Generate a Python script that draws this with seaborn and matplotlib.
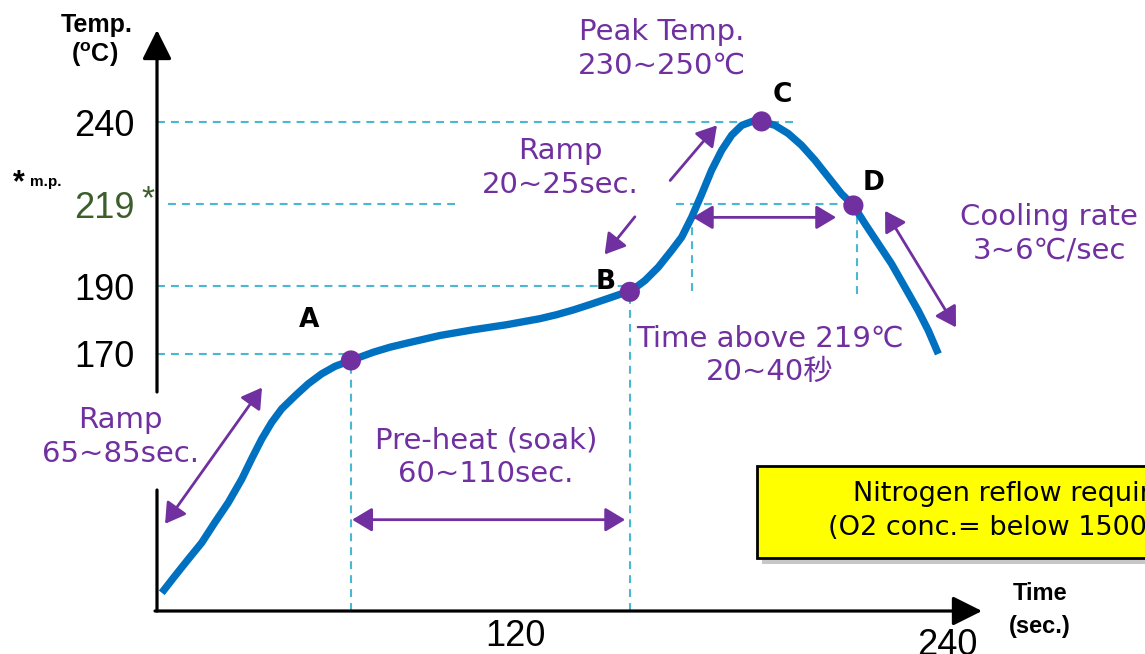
import matplotlib.pyplot as plt
import matplotlib.patches as mpatches
import numpy as np
import pandas as pd
import seaborn as sns

sns.set_style('white')
plt.rcParams['font.family'] = ['DejaVu Sans', 'Noto Sans CJK JP']
plt.rcParams['text.color'] = 'black'
plt.rcParams['mathtext.fontset'] = 'custom'
plt.rcParams['mathtext.rm'] = 'Liberation Sans'
plt.rcParams['mathtext.bf'] = 'Liberation Sans:bold'

# reflow profile (time in sec, temperature in degC)
profile_time = [1.6, 6.0, 10.5, 15.0, 19.4, 23.9, 28.4, 31.7, 35.1, 38.4,
                41.8, 46.3, 50.7, 55.2, 59.7, 65.0,
                72.5, 78.1, 83.7, 94.9, 106.0, 117.2, 126.9, 131.6, 136.2,
                140.8, 145.5, 150.1, 151.9,
                156.1, 159.8, 163.5, 166.3, 169.1, 171.9, 174.6, 177.4, 180.2,
                183.0, 186.2, 188.5, 192.2, 195.9, 199.6, 203.3, 207.0, 210.7,
                214.0, 217.2, 220.9, 224.6, 228.3, 232.0, 234.8, 237.6]
profile_temp = [100.3, 105.2, 110.1, 114.9, 120.8, 126.6, 133.4, 139.3, 145.1,
                149.9, 153.9, 157.7, 161.2, 164.1, 166.3, 168.0,
                170.4, 171.9, 173.1, 175.4, 177.1, 178.6, 180.4, 181.6, 183.0,
                184.6, 186.3, 188.0, 188.4,
                192.1, 196.8, 202.7, 207.4, 214.5, 221.7, 227.7, 232.8, 236.7,
                239.2, 240.3, 240.2, 239.2, 237.1, 234.1, 230.3, 226.0, 221.7,
                218.6, 212.2, 205.1, 198.0, 189.8, 182.8, 176.9, 169.9]

key_names = ['A', 'B', 'C', 'D']
key_time = [65.0, 151.9, 188.5, 214.0]
key_temp = [168.0, 188.4, 240.2, 218.6]

temp_ticks = [240, 219, 190, 170]
time_ticks = [120, 240]

# the drawing is schematic, so both axes use piecewise linear scales
x_knots = [-100, 0, 120, 240, 400]
x_knots_px = [-141.3, 157, 515, 947, 1523]
y_knots = [0, 95, 170, 190, 219, 240, 400]
y_knots_px = [-935.6, -610, -353, -286, -204, -122, 502]

PURPLE = '#7030A0'
BLUE = '#0070C0'
CYAN = '#4BB8D2'
GREEN = '#3B5E2B'
W, H = 1145, 654


def fx(v):
    return np.interp(v, x_knots, x_knots_px)


def fx_inv(v):
    return np.interp(v, x_knots_px, x_knots)


def fy(v):
    return np.interp(v, y_knots, y_knots_px)


def fy_inv(v):
    return np.interp(v, y_knots_px, y_knots)


fig = plt.figure(figsize=(11.45, 6.54), dpi=100)
ax = fig.add_axes([157 / W, 43 / H, 988 / W, 611 / H])
ax.set_xscale('function', functions=(fx, fx_inv))
ax.set_yscale('function', functions=(fy, fy_inv))

df = pd.DataFrame({'time': profile_time, 'temp': profile_temp})
keys = pd.DataFrame({'name': key_names, 'time': key_time, 'temp': key_temp})

# dashed guide lines
guide = dict(color=CYAN, lw=1.5, linestyles=(0, (3.8, 2.9)), zorder=1)
ax.hlines(240, 0, 197.8, **guide)
ax.hlines([219, 219], [3.7, 164.7], [99.9, key_time[3]], **guide)
ax.hlines(190, 0, key_time[1], **guide)
ax.hlines(170, 0, key_time[0], **guide)
ax.vlines(key_time[0], 95, key_temp[0], **guide)
ax.vlines(key_time[1], 95, key_temp[1], **guide)
ax.vlines(169.3, 188.6, 215.8, **guide)
ax.vlines(215.0, 187.9, 219.0, **guide)

sns.lineplot(data=df, x='time', y='temp', sort=False, estimator=None,
             color=BLUE, linewidth=5.3, solid_capstyle='butt', ax=ax, zorder=3)
sns.scatterplot(data=keys, x='time', y='temp', color=PURPLE, s=210,
                edgecolor='none', ax=ax, zorder=4, legend=False)

label_offsets = [(-42, 40), (-24, 10), (21, 26), (20, 22)]
for name, t, v, off in zip(key_names, key_time, key_temp, label_offsets):
    ax.annotate(name, (t, v), xytext=off, textcoords='offset pixels',
                ha='center', va='center', fontsize=19, fontweight='bold',
                color='black')

# purple annotation arrows
both = '<|-|>,head_length=0.55,head_width=0.33'
one = '-|>,head_length=0.55,head_width=0.33'


def arrow(p0, p1, style):
    ax.annotate('', xy=p1, xytext=p0,
                arrowprops=dict(arrowstyle=style, color=PURPLE, lw=2,
                                mutation_scale=22, shrinkA=0, shrinkB=0))


arrow((2.7, 120.4), (35.2, 160.1), both)
arrow((65.4, 121.6), (150.6, 121.6), both)
arrow((169.4, 214.4), (209.2, 214.4), both)
arrow((222.8, 216.7), (242.5, 177.8), both)
arrow((163.1, 225.1), (176.1, 239.2), one)
arrow((153.3, 214.6), (144.9, 201.3), one)

# axes drawn as arrows, with a gap behind the left ramp label
ax_line = dict(color='black', lw=2.3, shrinkA=0, shrinkB=0)
ax_head = '-|>,head_length=0.9,head_width=0.45'
ax.annotate('', xy=(157, 164), xycoords='figure pixels', xytext=(157, 43),
            arrowprops=dict(arrowstyle='-', **ax_line))
ax.annotate('', xy=(157, 624), xycoords='figure pixels', xytext=(157, 262),
            arrowprops=dict(arrowstyle=ax_head, mutation_scale=20, **ax_line))
ax.annotate('', xy=(982, 43), xycoords='figure pixels', xytext=(155, 43),
            arrowprops=dict(arrowstyle=ax_head, mutation_scale=20, **ax_line))

ax.set_xlim(0, fx_inv(1145))
ax.set_ylim(95, fy_inv(0))
for s in ax.spines.values():
    s.set_visible(False)
ax.set_xlabel('')
ax.set_ylabel('')
ax.set_yticks(temp_ticks, [str(v) for v in temp_ticks])
ax.set_xticks(time_ticks, [str(v) for v in time_ticks])
ax.tick_params(axis='both', length=0, labelsize=26, labelcolor='black',
               labelfontfamily='Liberation Sans')
ax.tick_params(axis='y', pad=16)
ax.tick_params(axis='x', pad=6)
ax.xaxis.get_major_ticks()[1].set_pad(12)
for lab in ax.get_yticklabels():
    if lab.get_text() == '219':
        lab.set_color(GREEN)
ax.grid(False)


def put(x, y, s, **kw):
    kw.setdefault('ha', 'center')
    kw.setdefault('va', 'center')
    return fig.text(x / W, 1 - y / H, s, **kw)


txt = dict(color=PURPLE, fontsize=21, linespacing=1.25, multialignment='center')
put(662, 49, 'Peak Temp.\n230~250℃', **txt)
put(560, 168, 'Ramp\n20~25sec.', **txt)
put(1049, 234, 'Cooling rate\n3~6℃/sec', **txt)
put(770, 355, 'Time above 219℃\n20~40秒', **txt)
put(486, 457, 'Pre-heat (soak)\n60~110sec.', **txt)
put(120, 437, 'Ramp\n65~85sec.', **txt)

bold = dict(family='Liberation Sans', fontweight='bold', color='black')
put(97, 25, 'Temp.', fontsize=18, **bold)
put(95, 55, r'(${}^{\mathbf{o}}$C)', fontsize=18, **bold)
put(19, 183, '*', fontsize=22, **bold)
put(46, 182, 'm.p.', fontsize=11, **bold)
put(148, 200, '*', fontsize=24, family='Liberation Sans', color=GREEN)
put(1040, 594, 'Time', fontsize=17, **bold)
put(1040, 627, '(sec.)', fontsize=17, **bold)

# yellow note box with a soft shadow (the box runs off the right edge)
shadow = mpatches.Rectangle(((757 + 5) / W, 1 - (558 + 6) / H), 450 / W, 92 / H,
                            transform=fig.transFigure, facecolor='#9a9a9a',
                            edgecolor='none', alpha=0.55, zorder=1)
box = mpatches.Rectangle((757 / W, 1 - 558 / H), 450 / W, 92 / H,
                         transform=fig.transFigure, facecolor='#FFFF00',
                         edgecolor='black', lw=2, zorder=2)
fig.add_artist(shadow)
fig.add_artist(box)
put(853, 494, 'Nitrogen reflow required', ha='left', fontsize=19.5,
    color='black', zorder=3)
put(828, 528, '(O2 conc.= below 1500ppm)', ha='left', fontsize=19.5,
    color='black', zorder=3)

plt.savefig('out.png', dpi=100)
